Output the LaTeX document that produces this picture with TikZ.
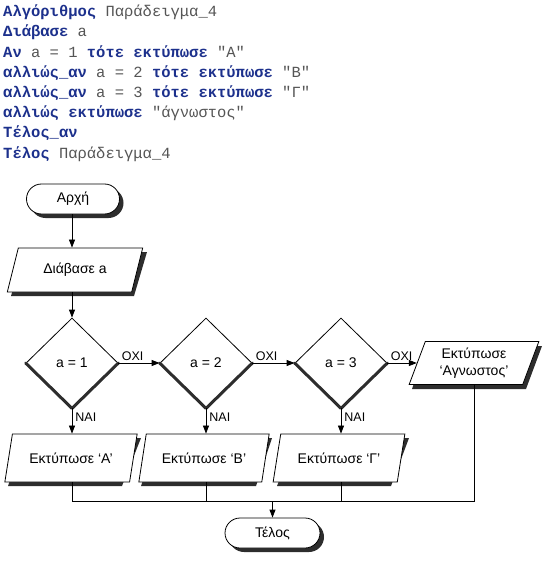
\documentclass[tikz,border=0pt]{standalone}
\usepackage{fontspec}
\setmainfont{Liberation Sans}
\newfontfamily\codefont{Liberation Mono}
\usetikzlibrary{shapes.geometric,arrows.meta}
\definecolor{kwblue}{RGB}{28,48,140}
\definecolor{codegray}{RGB}{85,85,85}
\definecolor{shadowcol}{RGB}{45,45,45}
\newcommand{\kw}[1]{{\bfseries\color{kwblue}#1}}
\begin{document}
\begin{tikzpicture}[x=1pt,y=-1pt,
  term/.style={draw,rectangle,rounded corners=15pt,minimum width=93pt,minimum height=30pt,
    fill=white,line width=0.8pt,font=\fontsize{14}{16}\selectfont},
  io/.style={draw,trapezium,trapezium left angle=72,trapezium right angle=108,
    trapezium stretches=true,minimum height=48pt,fill=white,line width=0.8pt,align=center,
    inner xsep=2pt,font=\fontsize{14}{17}\selectfont},
  dec/.style={draw,diamond,minimum width=92pt,minimum height=90pt,inner sep=0pt,
    fill=white,line width=0.8pt,font=\fontsize{14}{16}\selectfont},
  flow/.style={-{Triangle[length=8pt,width=6pt]},line width=0.8pt},
  wire/.style={line width=0.8pt},
  lbl/.style={font=\fontsize{12.5}{14}\selectfont,inner sep=1pt},
  codeline/.style={anchor=base west,inner sep=0pt,text=codegray,
    font=\codefont\fontsize{15.5}{18}\selectfont}]
\useasboundingbox (0,0) rectangle (549,561);

% drop shadows of the boxes
\fill[shadowcol] (24,252) -- (147,252) -- (134,296) -- (11,296) -- cycle;
\fill[shadowcol] (427,346) -- (542,346) -- (526,389) -- (412,389) -- cycle;
\fill[shadowcol] (24,438) -- (141,438) -- (122,486) -- (8,486) -- cycle;
\fill[shadowcol] (157,438) -- (272,438) -- (256,486) -- (141,486) -- cycle;
\fill[shadowcol] (296,438) -- (409,438) -- (391,486) -- (277,486) -- cycle;
\fill[shadowcol,rounded corners=15pt] (30.5,188) rectangle (123.5,218);
\fill[shadowcol,rounded corners=15pt] (229,522) rectangle (324,552);

% pseudo-code
\node[codeline] (c1) at (3,16.7) {\kw{Αλγόριθμος} Παράδειγμα\_4};
\node[codeline] (c2) at (3,36.9) {\kw{Διάβασε} a};
\node[codeline] (c3) at (3,57.1) {\kw{Αν} a = 1 \kw{τότε εκτύπωσε} "Α"};
\node[codeline] (c4) at (3,77.3) {\kw{αλλιώς\_αν} a = 2 \kw{τότε εκτύπωσε} "Β"};
\node[codeline] (c5) at (3,97.5) {\kw{αλλιώς\_αν} a = 3 \kw{τότε εκτύπωσε} "Γ"};
\node[codeline] (c6) at (3,117.7) {\kw{αλλιώς εκτύπωσε} "άγνωστος"};
\node[codeline] (c7) at (3,137.9) {\kw{Τέλος\_αν}};
\node[codeline] (c8) at (3,158.1) {\kw{Τέλος} Παράδειγμα\_4};

% flowchart
\node[term] (start) at (73,199) {Αρχή};
\node[io,minimum width=136pt,minimum height=44pt] (read) at (75,270) {Διάβασε a};
\node[dec] (d1) at (72,363) {a = 1};
\node[dec] (d2) at (206,363) {a = 2};
\node[dec] (d3) at (341,363) {a = 3};
\node[io,minimum width=130pt,minimum height=43pt] (pu) at (474,363) {Εκτύπωσε\\‘Αγνωστος’};
\node[io,minimum width=133pt] (pA) at (71,458) {Εκτύπωσε ‘Α’};
\node[io,minimum width=131pt] (pB) at (204,458) {Εκτύπωσε ‘Β’};
\node[io,minimum width=132pt] (pG) at (339,458) {Εκτύπωσε ‘Γ’};
\node[term,minimum width=95pt] (end) at (272.5,533) {Τέλος};
\coordinate (m) at (272.5,501);

% heavy lower edges of the decisions
\draw[shadowcol,line width=3pt,line cap=round,line join=round] (d1.west) -- (d1.south) -- (d1.east);
\draw[shadowcol,line width=3pt,line cap=round,line join=round] (d2.west) -- (d2.south) -- (d2.east);
\draw[shadowcol,line width=3pt,line cap=round,line join=round] (d3.west) -- (d3.south) -- (d3.east);

\draw[flow] (start.south -| d1.north) -- (d1.north |- read.north);
\draw[flow] (d1.north |- read.south) -- (d1.north);
\draw[flow] (d1.east) -- node[lbl,pos=0,anchor=south west,xshift=2pt,yshift=1pt]{ΟΧΙ} (d2.west);
\draw[flow] (d2.east) -- node[lbl,pos=0,anchor=south west,xshift=2pt,yshift=1pt]{ΟΧΙ} (d3.west);
\draw[flow] (d3.east) -- node[lbl,pos=0,anchor=south west,xshift=2pt,yshift=1pt]{ΟΧΙ} (pu.left side);
\draw[flow] (d1.south) -- node[lbl,pos=0,anchor=north west,xshift=2pt,yshift=-3pt]{ΝΑΙ} (d1.south |- pA.north);
\draw[flow] (d2.south) -- node[lbl,pos=0,anchor=north west,xshift=2pt,yshift=-3pt]{ΝΑΙ} (d2.south |- pB.north);
\draw[flow] (d3.south) -- node[lbl,pos=0,anchor=north west,xshift=2pt,yshift=-3pt]{ΝΑΙ} (d3.south |- pG.north);

\draw[wire] (d1.south |- pA.south) |- (pu.south |- m) -- (pu.south);
\draw[wire] (d2.south |- pB.south) -- (d2.south |- m);
\draw[wire] (d3.south |- pG.south) -- (d3.south |- m);
\draw[flow] (m) -- (end.north);
\end{tikzpicture}
\end{document}
